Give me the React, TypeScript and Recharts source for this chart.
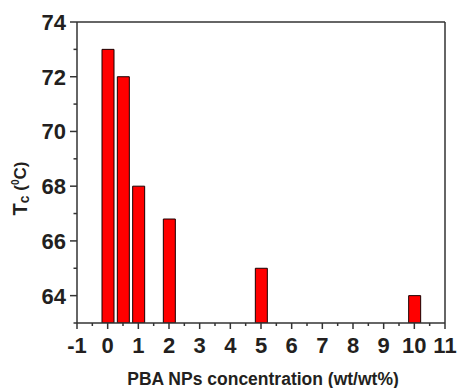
import React from 'react';
import { BarChart, Bar, XAxis, YAxis, ReferenceLine } from 'recharts';

const concentrations = [0, 0.5, 1, 2, 5, 10];
const tcValues = [73, 72, 68, 66.8, 65, 64];
const xTicks = [-1, -0.5, 0, 0.5, 1, 1.5, 2, 2.5, 3, 3.5, 4, 4.5, 5, 5.5, 6, 6.5, 7, 7.5, 8, 8.5, 9, 9.5, 10, 10.5, 11];
const xLabelTicks = [-1, 0, 1, 2, 3, 4, 5, 6, 7, 8, 9, 10, 11];
const yTicks = [63, 64, 65, 66, 67, 68, 69, 70, 71, 72, 73, 74];
const yLabelTicks = [64, 66, 68, 70, 72, 74];

const data = concentrations.map((c, i) => ({ c, tc: tcValues[i] }));

const FONT = '"Liberation Sans", Arial, Helvetica, sans-serif';
const TEXT = '#231f20';
const AXIS = '#333333';

const XTick = (props: any) => {
  const { x, y, payload } = props;
  const v = payload.value;
  const major = xLabelTicks.includes(v);
  return (
    <g>
      <line x1={x} x2={x} y1={y} y2={y + (major ? 6 : 3)} stroke={AXIS} strokeWidth={1.5} />
      {major && (
        <text x={x} y={y + 29.7} textAnchor="middle" fontFamily={FONT} fontWeight="bold" fontSize={22} fill={TEXT}>
          {v}
        </text>
      )}
    </g>
  );
};

const YTick = (props: any) => {
  const { x, y, payload } = props;
  const v = payload.value;
  const major = yLabelTicks.includes(v);
  return (
    <g>
      <line x1={x} x2={x - (major ? 7 : 3.5)} y1={y} y2={y} stroke={AXIS} strokeWidth={1.5} />
      {major && (
        <text x={x - 11} y={y + 8} textAnchor="end" fontFamily={FONT} fontWeight="bold" fontSize={22} fill={TEXT}>
          {v}
        </text>
      )}
    </g>
  );
};

const XLabel = (props: any) => {
  const vb = props.viewBox || { x: 77, y: 323, width: 368, height: 65 };
  return (
    <text x={vb.x + vb.width / 2 + 2} y={vb.y + 62} textAnchor="middle" fontFamily={FONT} fontWeight="bold" fontSize={17.5} fill={TEXT}>
      PBA NPs concentration (wt/wt%)
    </text>
  );
};

const YLabel = (props: any) => {
  const vb = props.viewBox || { x: 0, y: 22, width: 77, height: 301 };
  const cx = vb.x + 27;
  const cy = vb.y + 166.5;
  return (
    <text transform={`translate(${cx},${cy}) rotate(-90)`} textAnchor="middle" fontFamily={FONT} fontWeight="bold" fill={TEXT}>
      <tspan fontSize={20}>T</tspan>
      <tspan fontSize={14} dy={2}>c</tspan>
      <tspan fontSize={17} dy={-3}> (</tspan>
      <tspan fontSize={10} dy={-7}>0</tspan>
      <tspan fontSize={17} dy={7}>C)</tspan>
    </text>
  );
};

export default function App() {
  return (
    <div style={{ position: 'absolute', left: 0, top: 0, background: '#fff' }}>
      <BarChart width={457} height={388} data={data} margin={{ top: 22, right: 12, left: 0, bottom: 0 }}>
        <XAxis
          dataKey="c"
          type="number"
          domain={[-1, 11]}
          ticks={xTicks}
          interval={0}
          tickSize={0}
          tickMargin={0}
          tickLine={false}
          tick={<XTick />}
          height={65}
          axisLine={{ stroke: AXIS, strokeWidth: 1.5 }}
          label={<XLabel />}
          allowDataOverflow
        />
        <YAxis
          type="number"
          domain={[63, 74]}
          ticks={yTicks}
          interval={0}
          tickSize={0}
          tickMargin={0}
          tickLine={false}
          tick={<YTick />}
          width={77}
          axisLine={{ stroke: AXIS, strokeWidth: 1.5 }}
          label={<YLabel />}
          allowDataOverflow
        />
        <ReferenceLine y={74} stroke={AXIS} strokeWidth={1.5} />
        <ReferenceLine x={11} stroke={AXIS} strokeWidth={1.5} />
        <Bar dataKey="tc" fill="#ff0000" stroke="#1a0000" strokeWidth={1} barSize={12} isAnimationActive={false} />
      </BarChart>
    </div>
  );
}
